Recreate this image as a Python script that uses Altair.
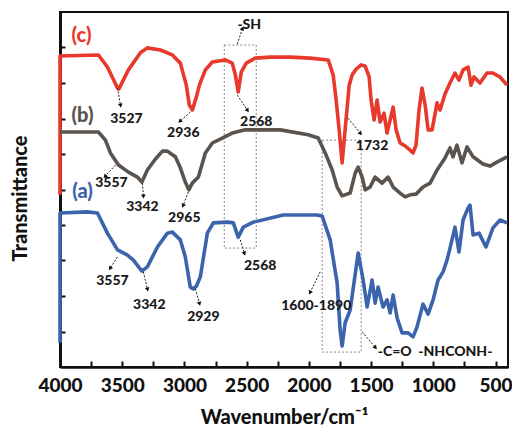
import math
import altair as alt
import pandas as pd

# ---------------- data ----------------
# (c) red spectrum
c_wn = [4000, 4000, 3691, 3619, 3538, 3527, 3450, 3354, 3298, 3193, 3097, 3033, 2985, 2961, 2936,
        2904, 2880, 2832, 2776, 2672, 2616, 2591, 2568, 2543, 2503, 2431, 2311, 2150, 1989, 1845,
        1805, 1781, 1757, 1733, 1709, 1676, 1652, 1620, 1580, 1548, 1516, 1500, 1476, 1452, 1428,
        1396, 1372, 1347, 1323, 1299, 1267, 1227, 1187, 1163, 1139, 1115, 1091, 1066, 1042, 1010,
        970, 946, 906, 866, 826, 794, 761, 721, 697, 673, 625, 569, 521, 464, 408]
c_t = [4.85, 8.76, 8.79, 8.45, 7.86, 7.83, 8.37, 8.85, 8.99, 8.93, 8.79, 8.56, 7.94, 7.38, 7.24,
       7.61, 7.94, 8.37, 8.59, 8.65, 8.56, 8.23, 7.75, 8.31, 8.56, 8.70, 8.73, 8.73, 8.70, 8.65,
       8.23, 7.52, 6.68, 5.75, 6.68, 7.94, 8.23, 8.39, 8.51, 8.48, 8.17, 7.52, 6.96, 7.52, 6.90,
       7.15, 6.59, 6.96, 7.32, 6.68, 6.31, 6.23, 6.11, 6.03, 6.25, 7.24, 7.86, 7.38, 6.68, 6.68,
       7.44, 7.24, 7.69, 8.00, 8.28, 8.08, 8.37, 8.45, 7.94, 8.17, 8.00, 8.28, 8.28, 8.17, 7.94]

# (b) grey spectrum
b_wn = [4000, 3691, 3635, 3595, 3530, 3450, 3378, 3342, 3298, 3233, 3177, 3137, 3073, 3033, 2993,
        2965, 2937, 2888, 2832, 2776, 2696, 2616, 2511, 2230, 2005, 1925, 1869, 1813, 1773, 1733,
        1668, 1628, 1604, 1572, 1548, 1508, 1468, 1412, 1363, 1323, 1267, 1227, 1187, 1139, 1083,
        1026, 970, 906, 866, 842, 810, 770, 729, 681, 601, 545, 489, 408]
b_t = [6.62, 6.62, 6.39, 6.03, 5.69, 5.49, 5.35, 5.21, 5.55, 5.86, 6.08, 6.08, 5.92, 5.61, 5.21,
       4.99, 5.18, 5.35, 6.03, 6.31, 6.45, 6.59, 6.68, 6.68, 6.54, 6.45, 6.03, 5.55, 5.07, 4.82,
       4.90, 5.46, 5.63, 5.35, 4.99, 5.07, 5.35, 5.18, 5.35, 5.07, 4.90, 4.79, 4.85, 4.87, 5.07,
       5.18, 5.55, 5.89, 6.17, 5.92, 6.25, 5.75, 6.20, 5.92, 5.72, 5.66, 5.77, 5.92]

# (a) blue spectrum
a_wn = [4000, 4000, 3779, 3699, 3619, 3538, 3458, 3410, 3342, 3298, 3217, 3137, 3097, 3033, 2993,
        2953, 2929, 2904, 2872, 2816, 2768, 2656, 2607, 2568, 2527, 2447, 2206, 1933, 1893, 1829,
        1773, 1749, 1733, 1709, 1668, 1604, 1564, 1532, 1492, 1468, 1444, 1404, 1372, 1347, 1323,
        1291, 1251, 1203, 1163, 1131, 1083, 1042, 1002, 962, 922, 890, 866, 826, 794, 761, 721,
        705, 681, 633, 577, 521, 464, 408]
a_t = [0.68, 4.34, 4.37, 4.34, 3.77, 3.30, 3.15, 3.01, 2.70, 2.82, 3.38, 3.77, 3.80, 3.58, 3.10,
       2.25, 2.20, 2.28, 2.54, 3.77, 4.06, 4.08, 4.06, 3.66, 3.94, 4.08, 4.28, 4.28, 4.25, 3.58,
       2.37, 1.04, 0.59, 1.24, 1.61, 3.21, 2.45, 1.69, 2.45, 1.80, 2.25, 1.69, 1.89, 1.52, 2.03,
       1.38, 0.96, 0.96, 0.85, 1.13, 1.77, 1.49, 1.89, 2.45, 2.68, 3.01, 3.35, 3.94, 3.24, 4.14,
       4.48, 4.56, 3.72, 3.77, 3.38, 3.92, 4.14, 4.06]

series_names = ["(a)", "(b)", "(c)"]
series_label_wn = [3819, 3819, 3827]
series_label_t = [4.93, 7.07, 9.32]

peak_labels = ["3527", "2936", "2568", "-SH", "1732", "3557", "3342", "2965",
               "3557", "3342", "2929", "2568", "1600-1890", "-C=O\u00a0\u00a0-NHCONH-"]
peak_label_wn = [3466, 3009, 2423, 2479, 1492, 3587, 3338, 3001,
                 3579, 3282, 2848, 2391, 1941, 986]
peak_label_t = [6.99, 6.59, 6.90, 9.63, 6.23, 5.18, 4.51, 4.20,
                2.42, 1.75, 1.41, 2.85, 1.72, 0.42]

arrow_wn1 = [3538, 2953, 2575, 2575, 1685, 3554, 3338, 2969, 3538, 3330, 2912, 2551, 1909, 1572]
arrow_t1 = [7.86, 7.18, 7.66, 9.10, 7.01, 5.69, 5.18, 4.93, 3.10, 2.68, 2.20, 3.58, 2.68, 0.99]
arrow_wn2 = [3514, 3033, 2495, 2535, 1588, 3635, 3330, 3009, 3595, 3298, 2880, 2519, 1989, 1468]
arrow_t2 = [7.38, 6.93, 7.24, 9.52, 6.59, 5.38, 4.82, 4.56, 2.79, 2.20, 1.80, 3.21, 2.11, 0.56]

box_wn1 = [2680, 1893]
box_wn2 = [2423, 1580]
box_t1 = [9.07, 6.39]
box_t2 = [3.35, 0.42]

x_major = [4000, 3500, 3000, 2500, 2000, 1500, 1000, 500]
x_ticks = [4000, 3750, 3500, 3250, 3000, 2750, 2500, 2250, 2000, 1750, 1500, 1250, 1000, 750, 500]
y_ticks = [1, 2, 3, 4, 5, 6, 7, 8, 9]

# ---------------- geometry / styles ----------------
W, H = 448, 355
XMIN, XMAX = 400, 4000
YMIN, YMAX = 0, 10
FONT = "Lato"
HEAVY = 900
colors = {"(a)": "#3b64ad", "(b)": "#5b534d", "(c)": "#e8392c"}

rows = []
for name, wns, ts in [("(c)", c_wn, c_t), ("(b)", b_wn, b_t), ("(a)", a_wn, a_t)]:
    for i, (w, t) in enumerate(zip(wns, ts)):
        rows.append({"wn": w, "t": t, "s": name, "i": i})
lines_df = pd.DataFrame(rows)

series_df = pd.DataFrame({"s": series_names, "wn": series_label_wn, "t": series_label_t})
labels_df = pd.DataFrame({"label": peak_labels, "wn": peak_label_wn, "t": peak_label_t})

arr = pd.DataFrame({"wn1": arrow_wn1, "t1": arrow_t1, "wn2": arrow_wn2, "t2": arrow_t2})
def head_angle(r):
    dx = -(r.wn2 - r.wn1) * W / (XMAX - XMIN)
    dy = -(r.t2 - r.t1) * H / (YMAX - YMIN)
    return math.degrees(math.atan2(dx, -dy)) % 360
arr["ang"] = arr.apply(head_angle, axis=1)

box_df = pd.DataFrame({"wn1": box_wn1, "wn2": box_wn2, "t1": box_t1, "t2": box_t2})
tick_df = pd.DataFrame({"wn": x_ticks[:9], "t": y_ticks})

xs = alt.Scale(domain=[XMIN, XMAX], reverse=True, nice=False, zero=False)
ys = alt.Scale(domain=[YMIN, YMAX], nice=False, zero=False)
cs = alt.Scale(domain=list(colors.keys()), range=list(colors.values()))

x_axis = alt.Axis(values=x_major, format="d", ticks=False, tickSize=0, grid=False,
                  labelFont=FONT, labelFontSize=19, labelFontWeight=HEAVY, labelColor="#111",
                  labelPadding=9, labelFlush=False, domainColor="#111", domainWidth=2.5,
                  title="Wavenumber/cm⁻¹", titleFont=FONT, titleFontSize=20,
                  titleFontWeight=HEAVY, titleColor="#111", titlePadding=12)
y_axis = alt.Axis(labels=False, ticks=False, grid=False, domainColor="#111", domainWidth=3,
                  title="Transmittance", titleFont=FONT, titleFontSize=20,
                  titleFontWeight=HEAVY, titleColor="#111", titlePadding=30, titleY=186)

boxes = alt.Chart(box_df).mark_rect(fill=None, stroke="#888", strokeWidth=1,
                                    strokeDash=[2, 2]).encode(
    x=alt.X("wn1:Q", scale=xs, axis=x_axis), x2="wn2:Q",
    y=alt.Y("t1:Q", scale=ys, axis=y_axis), y2="t2:Q")

lines = alt.Chart(lines_df).mark_line(strokeWidth=3.6, strokeJoin="round").encode(
    x=alt.X("wn:Q", scale=xs, axis=x_axis),
    y=alt.Y("t:Q", scale=ys, axis=y_axis),
    color=alt.Color("s:N", scale=cs, legend=None),
    detail="s:N",
    order="i:Q")

arrows = alt.Chart(arr).mark_rule(color="#222", strokeWidth=1, strokeDash=[2, 1.5]).encode(
    x=alt.X("wn1:Q", scale=xs, axis=x_axis), x2="wn2:Q",
    y=alt.Y("t1:Q", scale=ys, axis=y_axis), y2="t2:Q")
heads = alt.Chart(arr).mark_point(shape="triangle", filled=True, color="#111", size=22,
                                  opacity=1).encode(
    x=alt.X("wn2:Q", scale=xs, axis=x_axis), y=alt.Y("t2:Q", scale=ys, axis=y_axis),
    angle=alt.Angle("ang:Q", scale=None))

texts = alt.Chart(labels_df).mark_text(font=FONT, fontSize=14, fontWeight=HEAVY,
                                       color="#1a1a1a", baseline="middle").encode(
    x=alt.X("wn:Q", scale=xs, axis=x_axis), y=alt.Y("t:Q", scale=ys, axis=y_axis),
    text="label:N")
series_text = alt.Chart(series_df).mark_text(font=FONT, fontSize=20, fontWeight=HEAVY,
                                             baseline="middle").encode(
    x=alt.X("wn:Q", scale=xs, axis=x_axis), y=alt.Y("t:Q", scale=ys, axis=y_axis),
    text="s:N", color=alt.Color("s:N", scale=cs, legend=None))

main = alt.layer(boxes, lines, arrows, heads, texts, series_text)

tick_layer = alt.Chart(tick_df).mark_point(opacity=0).encode(
    x=alt.X("wn:Q", scale=xs, axis=alt.Axis(orient="top", offset=-H, values=x_ticks,
            labels=False, domain=False, grid=False, title=None, tickColor="#111",
            tickWidth=2, tickSize=6)),
    y=alt.Y("t:Q", scale=ys, axis=alt.Axis(orient="right", offset=-W, values=y_ticks,
            labels=False, domain=False, grid=False, title=None, tickColor="#111",
            tickWidth=2, tickSize=5)))

chart = alt.layer(main, tick_layer).resolve_axis(x="independent", y="independent").properties(
    width=W, height=H,
    autosize=alt.AutoSizeParams(type="none"),
    padding={"left": 60, "top": 12, "right": 4, "bottom": 66},
).configure_view(stroke="#111", strokeWidth=2)

chart.save("out.html", embed_options={"renderer": "svg", "actions": False})
